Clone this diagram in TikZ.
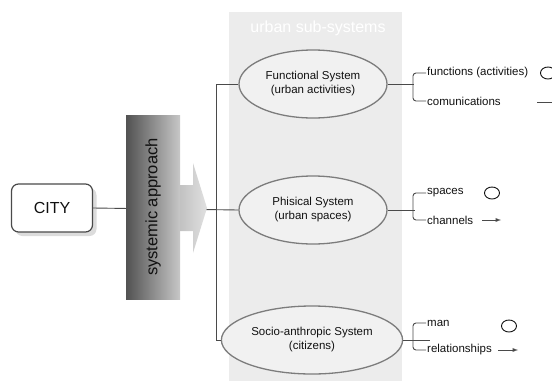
\documentclass[tikz,border=0pt]{standalone}
\usepackage{fontspec}
\setmainfont{Liberation Sans}
\usetikzlibrary{shapes.geometric,shadows,arrows}
\definecolor{panelgray}{HTML}{ECECEC}
\definecolor{ellfill}{HTML}{F1F1F1}
\definecolor{ellline}{HTML}{7C7C7C}
\definecolor{wire}{HTML}{4A4A4A}
\definecolor{textgray}{HTML}{111111}
\tikzset{
  wire/.style={draw=wire, line width=0.9pt},
  subsys/.style={ellipse, draw=ellline, line width=1.3pt, fill=ellfill,
    minimum width=148pt, minimum height=68pt, align=center, text=textgray,
    font=\fontsize{11.5}{14}\selectfont},
  item/.style={anchor=west, inner sep=1pt, text=textgray,
    font=\fontsize{11.5}{14}\selectfont},
  mark circle/.style={ellipse, draw=textgray, line width=0.9pt,
    minimum width=15pt, minimum height=12pt, inner sep=0pt},
}
\begin{document}
\begin{tikzpicture}[x=1pt, y=-1pt]
    \useasboundingbox (0, 0) rectangle (552, 389);
    % panel of the sub-systems
    \fill[panelgray] (229, 12) rectangle (402, 381);
    \node[text=white, font=\fontsize{16}{19}\selectfont] (head) at (318, 28) {urban sub-systems};
    % nodes
    \node[draw=wire, line width=1.2pt, fill=white, rounded corners=7pt,
          minimum width=81pt, minimum height=48pt, font=\fontsize{16}{19}\selectfont,
          text=textgray, drop shadow={shadow xshift=4pt, shadow yshift=-4pt, fill=gray!55}]
          (city) at (52, 208) {CITY};
    \node[subsys] (func) at (313, 84) {Functional System\\(urban activities)};
    \node[subsys] (phys) at (313, 210) {Phisical System\\(urban spaces)};
    \node[subsys] (socio) at (312, 340) {Socio-anthropic System\\(citizens)};
    % connectors
    \draw[wire] (city.east) -- (phys.west);
    \draw[wire] (func.west) -- ++(-22, 0) |- (socio.west);
    % systemic approach block
    \shade[left color=black!68, right color=black!22] (126, 115) rectangle (180, 299);
    \shade[left color=black!24, right color=black!12]
      (180, 185) -- (193, 185) -- (193, 163) -- (207, 208) -- (193, 253) -- (193, 231) -- (180, 231) -- cycle;
    \node[rotate=90, text=textgray, font=\fontsize{16.5}{19}\selectfont] (appr) at (153, 207) {systemic approach};
    % items
    \node[item] (funA) at (426, 73) {functions (activities)};
    \node[item] (funB) at (426, 101) {comunications};
    \node[item] (phyA) at (426, 193) {spaces};
    \node[item] (phyB) at (426, 220) {channels};
    \node[item] (socA) at (426, 323) {man};
    \node[item] (socB) at (426, 350) {relationships};
    \draw[wire] (func.east) -- ++(26, 0);
    \draw[wire] (phys.east) -- ++(27, 0);
    \draw[wire] (socio.east) -- ++(27, 0);
    \draw[wire, rounded corners=3pt] (funA.west) -- ++(-13, 0) |- (funB.west);
    \draw[wire, rounded corners=3pt] (phyA.west) -- ++(-13, 0) |- (phyB.west);
    \draw[wire, rounded corners=3pt] (socA.west) -- ++(-13, 0) |- (socB.west);
    % symbols
    \node[mark circle] (funO) at (548, 73) {};
    \node[mark circle] (phyO) at (492, 193) {};
    \node[mark circle] (socO) at (509, 326) {};
    \draw[wire, -latex] (537, 102) -- (558, 102);
    \draw[wire, -latex] (482, 220) -- (501, 220);
    \draw[wire, -latex] (498, 350) -- (518, 350);
\end{tikzpicture}
\end{document}
